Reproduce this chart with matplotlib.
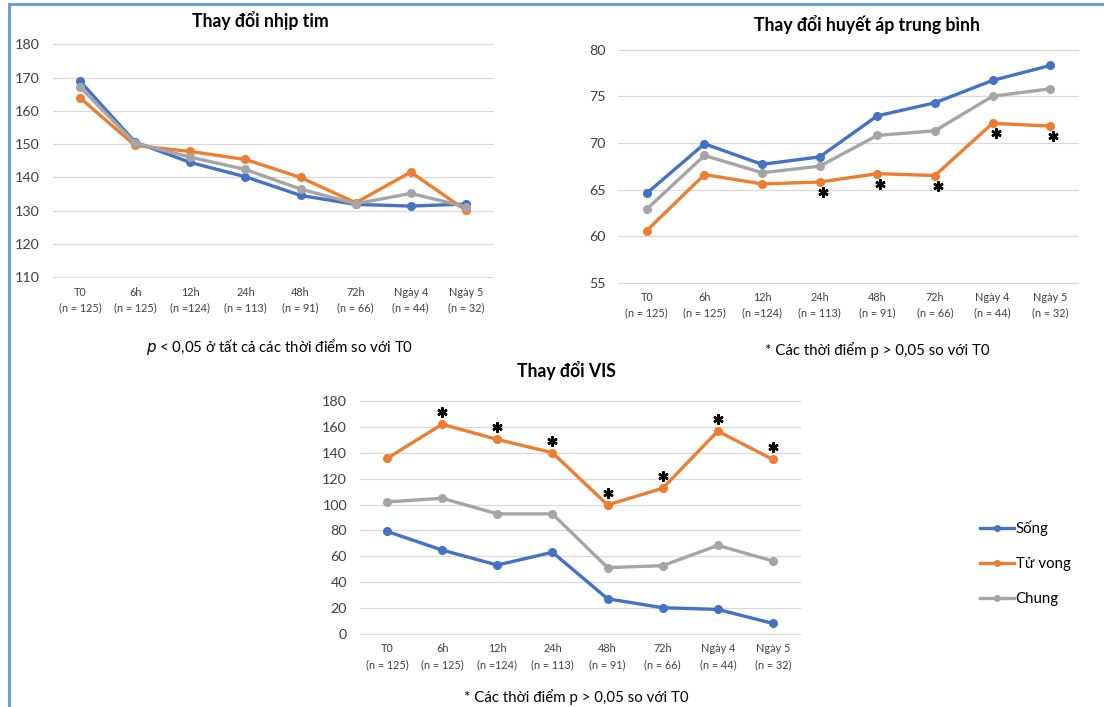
import matplotlib
matplotlib.use("Agg")
import matplotlib.pyplot as plt
from matplotlib.lines import Line2D
from matplotlib.transforms import offset_copy
import numpy as np

plt.rcParams['font.family'] = ['Lato', 'Noto Sans', 'DejaVu Sans']

categories = ["T0\n(n = 125)", "6h\n(n = 125)", "12h\n(n =124)", "24h\n(n = 113)",
              "48h\n(n = 91)", "72h\n(n = 66)", "Ngày 4\n(n = 44)", "Ngày 5\n(n = 32)"]
series_names = ["Sống", "Tử vong", "Chung"]
colors = ["#4472C4", "#ED7D31", "#A5A5A5"]

hr_song = [168.9, 150.6, 144.5, 140.2, 134.6, 131.9, 131.4, 132.0]
hr_tuvong = [163.9, 149.6, 147.8, 145.4, 140.0, 132.4, 141.6, 130.1]
hr_chung = [167.1, 150.3, 146.1, 142.4, 136.5, 132.1, 135.2, 131.2]

map_song = [64.6, 69.9, 67.7, 68.5, 72.9, 74.3, 76.7, 78.3]
map_tuvong = [60.6, 66.6, 65.6, 65.8, 66.7, 66.5, 72.1, 71.8]
map_chung = [62.9, 68.65, 66.8, 67.5, 70.8, 71.3, 75.0, 75.8]
map_star = [False, False, False, True, True, True, True, True]

vis_song = [79.3, 64.9, 53.4, 63.2, 27.4, 20.5, 19.2, 8.4]
vis_tuvong = [135.5, 161.8, 150.1, 139.9, 99.7, 112.5, 156.5, 134.7]
vis_chung = [102.0, 104.8, 92.8, 92.8, 51.4, 52.9, 68.5, 56.5]
vis_star = [False, True, True, True, True, True, True, True]

W, H = 1104, 707
fig = plt.figure(figsize=(W / 100, H / 100), dpi=100)


def ax_px(x0, y0, x1, y1):
    return fig.add_axes([x0 / W, 1 - y1 / H, (x1 - x0) / W, (y1 - y0) / H])


def style(ax, yticks):
    ax.set_xlim(-0.5, 7.5)
    ax.set_yticks(yticks)
    ax.set_xticks(range(len(categories)))
    ax.set_xticklabels(categories, fontsize=7.8, color="#404040", linespacing=1.5)
    ax.tick_params(axis='y', labelsize=10.3, colors="#404040", length=0, pad=9)
    ax.tick_params(axis='x', length=0, pad=6)
    for s in ax.spines.values():
        s.set_visible(False)
    ax.grid(axis='y', color="#D9D9D9", linewidth=0.9)
    ax.set_axisbelow(True)


def draw(ax, data):
    x = np.arange(len(categories))
    for vals, c in zip(data, colors):
        ax.plot(x, vals, color=c, linewidth=2.4, marker='o', markersize=5.5, zorder=3)


def stars(ax, vals, flags, dx, dy):
    tr = offset_copy(ax.transData, fig=fig, x=dx, y=dy, units='dots')
    xs = [i for i, f in enumerate(flags) if f]
    ys = [vals[i] for i in xs]
    ax.plot(xs, ys, linestyle='none', marker=(6, 2, 0), markersize=7.3,
            markeredgewidth=1.8, color='black', transform=tr, zorder=4, clip_on=False)


def title(x, y, s):
    fig.text(x / W, 1 - y / H, s, ha='center', va='center', fontsize=12.7,
             fontweight='bold')


# Panel 1: heart rate
ax1 = ax_px(52.5, 43.3, 493.5, 278.3)
draw(ax1, [hr_song, hr_tuvong, hr_chung])
style(ax1, range(110, 181, 10))
ax1.set_ylim(109.7, 180.3)
title(260, 21, "Thay đổi nhịp tim")

# Panel 2: MAP
ax2 = ax_px(618, 48.7, 1079, 283.7)
draw(ax2, [map_song, map_tuvong, map_chung])
style(ax2, range(55, 81, 5))
ax2.set_ylim(54.9, 80.1)
stars(ax2, map_tuvong, map_star, 3, -10)
title(867, 24, "Thay đổi huyết áp trung bình")

# Panel 3: VIS
ax3 = ax_px(359.5, 400, 800.5, 635)
draw(ax3, [vis_song, vis_tuvong, vis_chung])
style(ax3, range(0, 181, 20))
ax3.set_ylim(-0.5, 180.5)
stars(ax3, vis_tuvong, vis_star, 0, 12)
title(566, 371, "Thay đổi VIS")

# Footnotes
fig.text(280 / W, 1 - 347 / H, r"$\it{p}$ < 0,05 ở tất cả các thời điểm so với T0",
         ha='center', va='center', fontsize=10.8)
fig.text(877 / W, 1 - 350 / H, "* Các thời điểm p > 0,05 so với T0",
         ha='center', va='center', fontsize=10.8)
fig.text(576 / W, 1 - 697 / H, "* Các thời điểm p > 0,05 so với T0",
         ha='center', va='center', fontsize=10.8)

# Legend
handles = [Line2D([0], [0], color=c, linewidth=2.4, marker='o', markersize=4)
           for c in colors]
fig.legend(handles, series_names, loc='center left',
           bbox_to_anchor=(966 / W, 1 - 563 / H), frameon=False, fontsize=10.8,
           handlelength=2.3, handletextpad=0.1, labelspacing=1.4)

# Border lines (frame of the picture)
fig.add_artist(Line2D([9 / W, 9 / W], [0, 1 - 3.5 / H], color="#5B9BD5", linewidth=2,
                      transform=fig.transFigure))
fig.add_artist(Line2D([9 / W, 1], [1 - 3.5 / H, 1 - 3.5 / H], color="#5B9BD5", linewidth=2,
                      transform=fig.transFigure))

fig.savefig("out.png", dpi=100)
